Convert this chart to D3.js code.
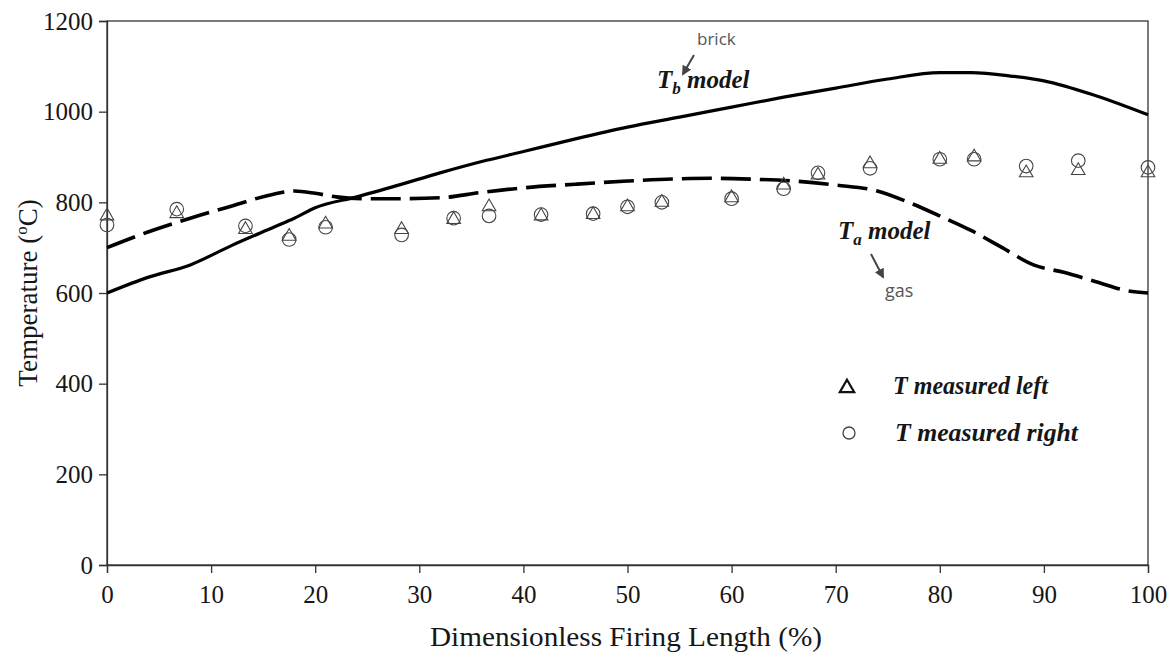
<!DOCTYPE html>
<html><head><meta charset="utf-8">
<script src="https://cdn.jsdelivr.net/npm/d3@7/dist/d3.min.js"></script>
<style>body{margin:0;background:#fff}</style>
</head><body>
<svg id="c" width="1174" height="657"></svg>
<script>
const xTicks = [0,10,20,30,40,50,60,70,80,90,100];
const yTicks = [0,200,400,600,800,1000,1200];

const tbX = [0,4,8,12,16,18,20,24,28,32,36,40,45,50,55,60,65,70,75,80,83,87,90,95,100];
const tbY = [600,635,662,705,745,765,788,812,838,865,890,912,940,966,988,1010,1032,1052,1072,1086,1086,1078,1068,1035,993];

const taX = [0,4,8,12,16,18,20,22,25,28,32,36,40,45,50,55,58,62,66,70,74,77,80,83,86,89,92,95,98,100];
const taY = [700,735,765,792,818,825,820,812,808,808,810,822,832,840,847,852,853,851,847,838,825,800,770,738,700,662,645,625,605,600];

const measX = [0,6.7,13.3,17.5,21,28.3,33.3,36.7,41.7,46.7,50,53.3,60,65,68.3,73.3,80,83.3,88.3,93.3,100];
const measLeft = [770,775,740,725,752,740,762,790,770,773,790,800,810,838,860,885,895,900,865,870,865];
const measRight = [750,785,748,718,745,728,765,770,773,775,790,800,808,830,865,875,895,895,880,892,877];

const svg = d3.select("#c");
const L=107, R=1148, T=21, B=565;
const x = d3.scaleLinear().domain([0,100]).range([L,R]);
const y = d3.scaleLinear().domain([0,1200]).range([B,T]);
const serif = "'Liberation Serif','Times New Roman',serif";
const txt = "#161616";

svg.append("rect").attr("x",L).attr("y",T).attr("width",R-L).attr("height",B-T)
  .attr("fill","none").attr("stroke","#333").attr("stroke-width",1.3);

const xa = svg.append("g").attr("transform",`translate(0,${B})`)
  .call(d3.axisBottom(x).tickValues(xTicks).tickFormat(d3.format("d")).tickSize(8).tickPadding(12));
const ya = svg.append("g").attr("transform",`translate(${L},0)`)
  .call(d3.axisLeft(y).tickValues(yTicks).tickFormat(d3.format("d")).tickSize(8).tickPadding(6));
[xa,ya].forEach(g=>{
  g.selectAll("path").attr("stroke","#333").attr("stroke-width",1.3);
  g.selectAll("line").attr("stroke","#333").attr("stroke-width",1.3);
  g.selectAll("text").attr("font-family",serif).attr("font-size",25).attr("fill",txt);
});

const line = d3.line().curve(d3.curveMonotoneX).x(d=>x(d[0])).y(d=>y(d[1]));
svg.append("path").datum(tbX.map((v,i)=>[v,tbY[i]])).attr("d",line)
  .attr("fill","none").attr("stroke","#000").attr("stroke-width",3.2);
svg.append("path").datum(taX.map((v,i)=>[v,taY[i]])).attr("d",line)
  .attr("fill","none").attr("stroke","#000").attr("stroke-width",3.6)
  .attr("stroke-dasharray","30,9");

const tri = d3.symbol().type(d3.symbolTriangle).size(80);
svg.append("g").selectAll("path").data(measX.map((v,i)=>[v,measLeft[i]])).join("path")
  .attr("d",tri).attr("transform",d=>`translate(${x(d[0])},${y(d[1])})`)
  .attr("fill","none").attr("stroke","#444").attr("stroke-width",1.1);
svg.append("g").selectAll("circle").data(measX.map((v,i)=>[v,measRight[i]])).join("circle")
  .attr("cx",d=>x(d[0])).attr("cy",d=>y(d[1])).attr("r",6.8)
  .attr("fill","none").attr("stroke","#444").attr("stroke-width",1.1);

svg.append("text").attr("x",626).attr("y",646).attr("text-anchor","middle")
  .attr("font-family",serif).attr("font-size",27).attr("fill",txt)
  .attr("textLength",392).attr("lengthAdjust","spacingAndGlyphs")
  .text("Dimensionless Firing Length (%)");
const yt = svg.append("text").attr("transform","translate(37,293) rotate(-90)").attr("text-anchor","middle")
  .attr("font-family",serif).attr("font-size",27).attr("fill",txt);
yt.append("tspan").text("Temperature (");
yt.append("tspan").attr("dy",-10).attr("font-size",17).text("o");
yt.append("tspan").attr("dy",10).text("C)");

const bi = (sel,fs)=>sel.attr("font-family",serif).attr("font-size",fs).attr("font-style","italic").attr("font-weight","bold").attr("fill",txt);
const tb = bi(svg.append("text").attr("x",657).attr("y",88),25);
tb.append("tspan").text("T");
tb.append("tspan").attr("dy",6).attr("font-size",17).text("b");
tb.append("tspan").attr("dy",-6).text(" model");
const ta = bi(svg.append("text").attr("x",838).attr("y",239),25);
ta.append("tspan").text("T");
ta.append("tspan").attr("dy",6).attr("font-size",17).text("a");
ta.append("tspan").attr("dy",-6).text(" model");

svg.append("defs").append("marker").attr("id","ah").attr("viewBox","0 0 10 10")
  .attr("refX",8).attr("refY",5).attr("markerWidth",5).attr("markerHeight",5).attr("orient","auto")
  .append("path").attr("d","M0,0 L10,5 L0,10 z").attr("fill","#444");
svg.append("line").attr("x1",694).attr("y1",55).attr("x2",683).attr("y2",74)
  .attr("stroke","#444").attr("stroke-width",2).attr("marker-end","url(#ah)");
svg.append("line").attr("x1",871).attr("y1",254).attr("x2",883).attr("y2",277)
  .attr("stroke","#444").attr("stroke-width",2).attr("marker-end","url(#ah)");
svg.append("text").attr("x",697).attr("y",45).attr("font-family","'Open Sans',sans-serif")
  .attr("font-size",17).attr("fill","#555").text("brick");
svg.append("text").attr("x",885).attr("y",297).attr("font-family","'Open Sans',sans-serif")
  .attr("font-size",18).attr("fill","#555").text("gas");

svg.append("path").attr("d",d3.symbol().type(d3.symbolTriangle).size(90)())
  .attr("transform","translate(847,388)").attr("fill","none").attr("stroke","#111").attr("stroke-width",2.2);
svg.append("circle").attr("cx",849).attr("cy",433).attr("r",6).attr("fill","none").attr("stroke","#444").attr("stroke-width",1.3);
bi(svg.append("text").attr("x",893).attr("y",394),25).attr("textLength",155).attr("lengthAdjust","spacingAndGlyphs").text("T measured left");
bi(svg.append("text").attr("x",895).attr("y",441),25).attr("textLength",183).attr("lengthAdjust","spacingAndGlyphs").text("T measured right");
</script>
</body></html>
